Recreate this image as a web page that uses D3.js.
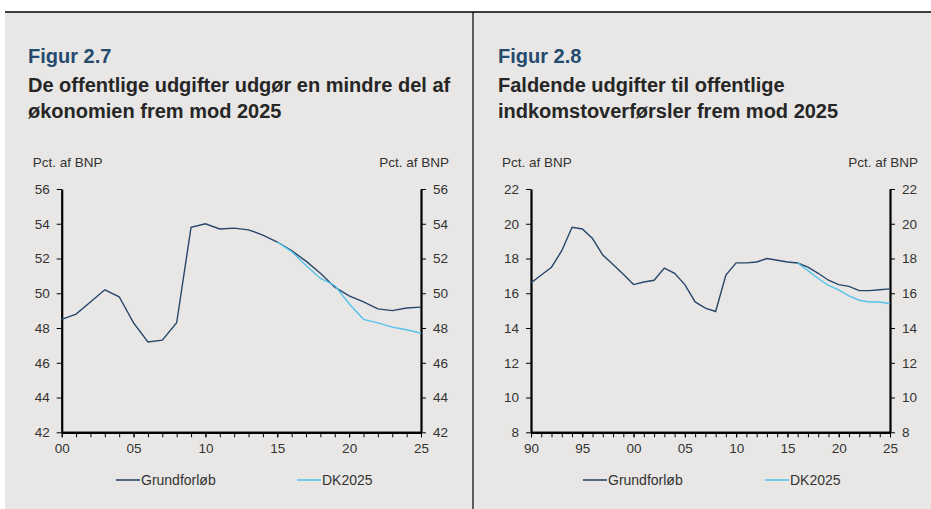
<!doctype html>
<html>
<head>
<meta charset="utf-8">
<title>Figur 2.7 og 2.8</title>
<script src="https://cdnjs.cloudflare.com/ajax/libs/d3/7.8.5/d3.min.js"></script>
<style>
  body { margin: 0; background: #fff; }
  svg { display: block; font-family: "Liberation Sans", Arial, sans-serif; }
  .tick text { font-size: 13.5px; fill: #333; }
</style>
</head>
<body>
<svg id="chart" width="931" height="509"></svg>
<script>

/* DATA */

// figur 2.7 - offentlige udgifter, pct. af BNP
var years27 = d3.range(2000, 2026);
var grund27 = [48.5, 48.8, 49.5, 50.2, 49.8, 48.3, 47.2, 47.3, 48.3, 53.8,
               54.0, 53.7, 53.75, 53.65, 53.35, 52.95, 52.45, 51.85, 51.15, 50.35,
               49.85, 49.5, 49.1, 49.0, 49.15, 49.2];
var dkYears27 = d3.range(2015, 2026);
var dk27 = [52.95, 52.4, 51.6, 50.85, 50.45, 49.4, 48.5, 48.3, 48.05, 47.9, 47.7];
var yTicks27 = d3.range(42, 57, 2);

// figur 2.8 - indkomstoverførsler, pct. af BNP
var years28 = d3.range(1990, 2026);
var grund28 = [16.6, 17.05, 17.5, 18.45, 19.8, 19.7, 19.15, 18.2, 17.65, 17.1,
               16.5, 16.65, 16.75, 17.45, 17.15, 16.5, 15.5, 15.15, 14.95, 17.05,
               17.75, 17.75, 17.8, 18.0, 17.9, 17.8, 17.74, 17.5, 17.15, 16.75,
               16.5, 16.4, 16.15, 16.15, 16.2, 16.25];
var dkYears28 = d3.range(2016, 2026);
var dk28 = [17.74, 17.3, 16.85, 16.45, 16.2, 15.85, 15.6, 15.5, 15.5, 15.4];
var yTicks28 = d3.range(8, 23, 2);

var xTicks27 = d3.range(2000, 2026, 5);
var xTicks28 = d3.range(1990, 2026, 5);

var grundColor = "#27476a";
var dkColor = "#55c3ec";

var svg = d3.select("#chart");

// baggrund og rammer
svg.append("rect").attr("x", 5).attr("y", 12).attr("width", 926).attr("height", 497).attr("fill", "#e8e7e5");
svg.append("line").attr("x1", 5).attr("x2", 931).attr("y1", 12).attr("y2", 12)
    .attr("stroke", "#000").attr("stroke-width", 1.5);
svg.append("line").attr("x1", 473).attr("x2", 473).attr("y1", 12).attr("y2", 509)
    .attr("stroke", "#000").attr("stroke-width", 1.2);

function drawChart(cfg) {
    var g = svg.append("g");

    g.append("text").attr("x", cfg.tx).attr("y", 62.5)
        .style("font-size", "20px").style("font-weight", "bold").style("fill", "#244a6e")
        .text(cfg.fig);
    cfg.title.forEach(function(t, i) {
        g.append("text").attr("x", cfg.tx).attr("y", 92 + i * 26)
            .style("font-size", "20px").style("font-weight", "bold").style("fill", "#262626")
            .text(t);
    });

    var xScale = d3.scaleLinear().domain(cfg.xDomain).range([cfg.left, cfg.right]);
    var yScale = d3.scaleLinear().domain(cfg.yDomain).range([432.3, 189]);

    g.append("text").attr("x", cfg.left - 29).attr("y", 167)
        .style("font-size", "13.5px").style("fill", "#333").text("Pct. af BNP");
    g.append("text").attr("x", cfg.right + 28).attr("y", 167).attr("text-anchor", "end")
        .style("font-size", "13.5px").style("fill", "#333").text("Pct. af BNP");

    var yLeft = d3.axisLeft(yScale).tickValues(cfg.yTicks).tickSize(5).tickPadding(7).tickSizeOuter(0);
    var yRight = d3.axisRight(yScale).tickValues(cfg.yTicks).tickSize(5).tickPadding(7).tickSizeOuter(0);
    var xMinor = d3.axisBottom(xScale).tickValues(d3.range(cfg.xDomain[0], cfg.xDomain[1] + 1))
        .tickSize(5).tickFormat("").tickSizeOuter(0);
    var xAxis = d3.axisBottom(xScale).tickValues(cfg.xTicks).tickSize(5).tickPadding(6).tickSizeOuter(0)
        .tickFormat(d => String(d % 100).padStart(2, "0"));

    [["l", yLeft, "translate(" + cfg.left + ",0)"],
     ["r", yRight, "translate(" + cfg.right + ",0)"],
     ["m", xMinor, "translate(0,432.3)"],
     ["x", xAxis, "translate(0,432.3)"]].forEach(function(a) {
        var ax = g.append("g").attr("transform", a[2]).call(a[1]);
        ax.select(".domain").attr("stroke", "#000").attr("stroke-width", 2.2);
        ax.selectAll(".tick line").attr("stroke", "#000").attr("stroke-width", 1);
        ax.selectAll(".tick text").style("font-family", "Liberation Sans, Arial, sans-serif");
    });

    var line = d3.line().x(d => xScale(d[0])).y(d => yScale(d[1]));

    g.append("path").datum(d3.zip(cfg.years, cfg.grund))
        .attr("d", line).attr("fill", "none").attr("stroke", grundColor).attr("stroke-width", 1.4);
    g.append("path").datum(d3.zip(cfg.dkYears, cfg.dk))
        .attr("d", line).attr("fill", "none").attr("stroke", dkColor).attr("stroke-width", 1.4);

    // legend
    var leg = [["Grundforløb", grundColor, cfg.legX[0]], ["DK2025", dkColor, cfg.legX[1]]];
    leg.forEach(function(l) {
        g.append("line").attr("x1", l[2]).attr("x2", l[2] + 24).attr("y1", 480).attr("y2", 480)
            .attr("stroke", l[1]).attr("stroke-width", 1.6);
        g.append("text").attr("x", l[2] + 25).attr("y", 484.5)
            .style("font-family", "'Liberation Sans Narrow', 'Arial Narrow', sans-serif")
            .style("font-size", "14px").style("fill", "#333").text(l[0]);
    });
}

drawChart({
    fig: "Figur 2.7",
    title: ["De offentlige udgifter udgør en mindre del af", "økonomien frem mod 2025"],
    tx: 28, left: 61.7, right: 421,
    xDomain: [2000, 2025], yDomain: [42, 56],
    xTicks: xTicks27, yTicks: yTicks27,
    years: years27, grund: grund27, dkYears: dkYears27, dk: dk27,
    legX: [116, 297]
});

drawChart({
    fig: "Figur 2.8",
    title: ["Faldende udgifter til offentlige", "indkomstoverførsler frem mod 2025"],
    tx: 498, left: 531, right: 890,
    xDomain: [1990, 2025], yDomain: [8, 22],
    xTicks: xTicks28, yTicks: yTicks28,
    years: years28, grund: grund28, dkYears: dkYears28, dk: dk28,
    legX: [583, 765]
});

</script>
</body>
</html>
